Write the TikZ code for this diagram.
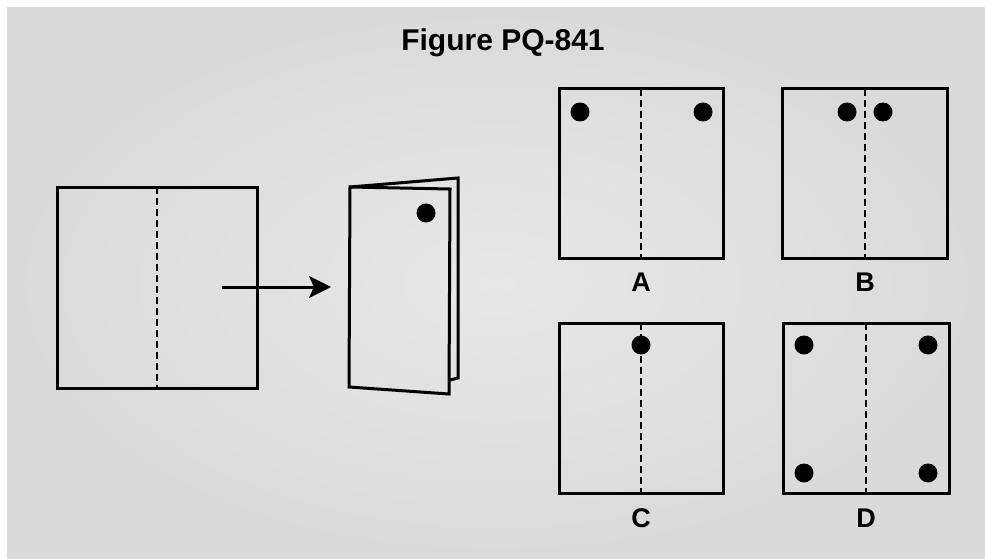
\documentclass[tikz,border=0pt]{standalone}
\usepackage{fontspec}
\newfontfamily\arial{Liberation Sans}
\usetikzlibrary{arrows.meta}
\definecolor{bgin}{HTML}{E7E7E7}
\definecolor{bgout}{HTML}{DADADA}
\tikzset{
  sheet/.style={draw=black, line width=3pt, inner sep=0pt, outer sep=0pt, rectangle},
  fold/.style={draw=black, line width=2.4pt, dash pattern=on 7pt off 4pt},
  hole/.style={circle, fill=black, inner sep=0pt, minimum size=19pt},
  lbl/.style={font=\arial\bfseries\fontsize{27}{30}\selectfont, inner sep=0pt},
  ttl/.style={font=\arial\bfseries\fontsize{30}{34}\selectfont, inner sep=0pt},
  paper/.style={draw=black, line width=3pt, line join=miter},
}
\begin{document}
\begin{tikzpicture}[x=1pt,y=-1pt]
\useasboundingbox (0,0) rectangle (985,559);
\fill[white] (0,0) rectangle (985,559);
\shade[inner color=bgin, outer color=bgout] (7,8) rectangle (985,559);
% title
\node[ttl] (title) at (503,43) {Figure PQ-841};
% unfolded sheet
\node[sheet, minimum width=200pt, minimum height=201pt] (sq) at (157,287.5) {};
\draw[fold] (sq.north) -- (sq.south);
% arrow
\coordinate (arrS) at (222,287);
\coordinate (arrE) at (331,287);
\draw[line width=3pt, -{Stealth[length=22pt, width=22pt, inset=5pt]}] (arrS) -- (arrE);
% folded sheet
\coordinate (p1) at (350,187);
\coordinate (b2) at (458,178);
\coordinate (b3) at (458,378);
\coordinate (b4) at (450,380);
\coordinate (f2) at (450,189);
\coordinate (f3) at (449,394);
\coordinate (f4) at (349,387);
\draw[paper] (p1) -- (b2) -- (b3) -- (b4);
\draw[paper] (p1) -- (f2) -- (f3) -- (f4) -- cycle;
\node[hole] (h0) at (426,213) {};
% option A
\node[sheet, minimum width=164pt, minimum height=169pt] (A) at (641,173.5) {};
\draw[fold] (A.north) -- (A.south);
\node[hole] (a1) at (580,112) {};
\node[hole] (a2) at (703,112) {};
\node[lbl] (la) at (641,282) {A};
% option B
\node[sheet, minimum width=165pt, minimum height=169pt] (B) at (865,173.5) {};
\draw[fold] (B.north) -- (B.south);
\node[hole] (b1) at (847,112) {};
\node[hole] (bb2) at (883,112) {};
\node[lbl] (lb) at (865,282) {B};
% option C
\node[sheet, minimum width=164pt, minimum height=170pt] (C) at (641,408) {};
\draw[fold] (C.north) -- (C.south);
\node[hole] (c1) at (641,345) {};
\node[lbl] (lc) at (641,518) {C};
% option D
\node[sheet, minimum width=166pt, minimum height=170pt] (D) at (866,408) {};
\draw[fold] (D.north) -- (D.south);
\node[hole] (d1) at (804,345) {};
\node[hole] (d2) at (928,345) {};
\node[hole] (d3) at (804,473) {};
\node[hole] (d4) at (928,473) {};
\node[lbl] (ld) at (866,518) {D};
\end{tikzpicture}
\end{document}
